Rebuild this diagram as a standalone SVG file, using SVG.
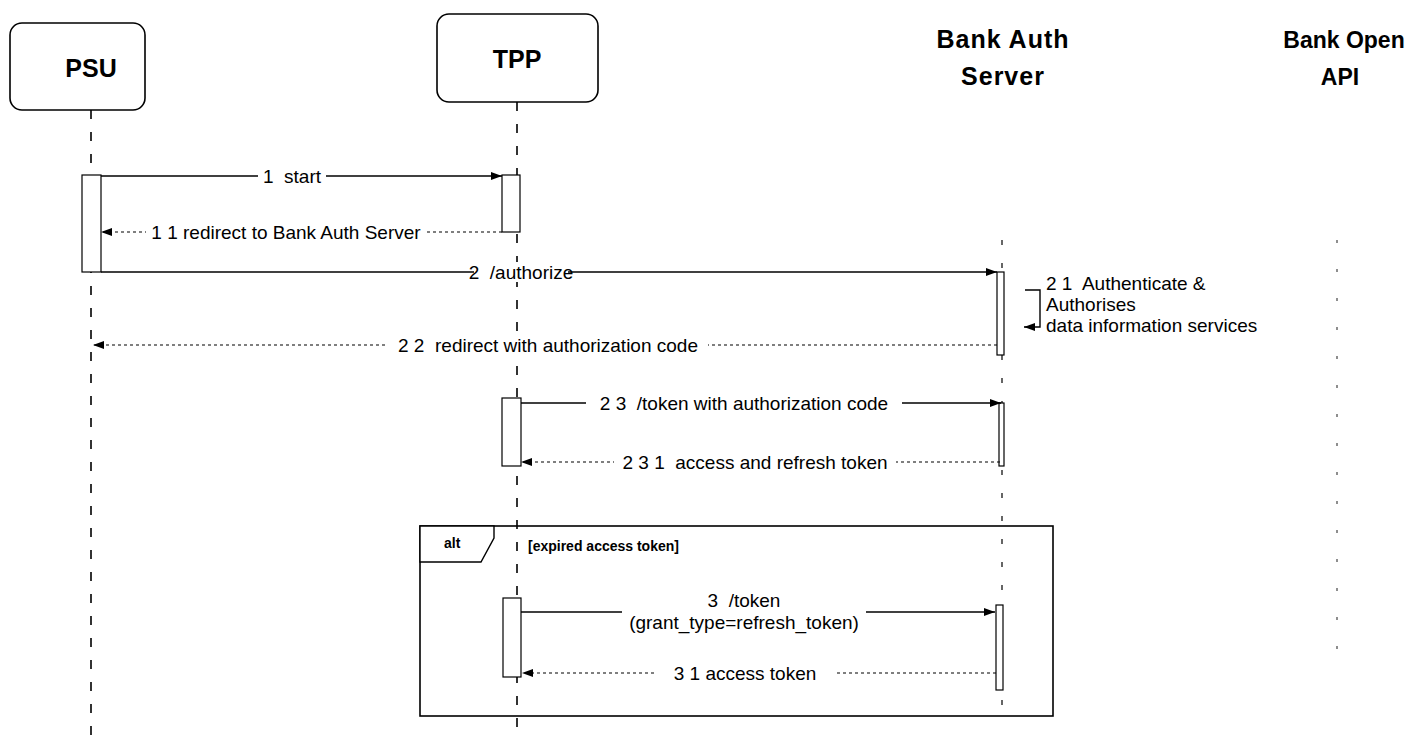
<svg xmlns="http://www.w3.org/2000/svg" width="1408" height="740" viewBox="0 0 1408 740">
<defs>
<style>
text{white-space:pre}
.hdr{font-family:"Liberation Sans",Arial,sans-serif;font-weight:bold;font-size:25px;fill:#000;text-anchor:middle}
.hdr2{font-family:"Liberation Sans",Arial,sans-serif;font-weight:bold;font-size:23px;fill:#000;text-anchor:middle}
.msg{font-family:"Liberation Sans",Arial,sans-serif;font-size:19px;fill:#000;text-anchor:middle}
.lbl{font-family:"Liberation Sans",Arial,sans-serif;font-size:19px;fill:#000}
.small{font-family:"Liberation Sans",Arial,sans-serif;font-weight:bold;font-size:14px;fill:#000}
.life{stroke:#000;stroke-width:1.6;stroke-dasharray:9 13;fill:none}
.life2{stroke:#000;stroke-width:1.2;stroke-dasharray:5 18;fill:none}
.life3{stroke:#444;stroke-width:1.2;stroke-dasharray:3 26;fill:none}
.box{fill:#fff;stroke:#000;stroke-width:1.6}
.act{fill:#fff;stroke:#000;stroke-width:1.2}
.sync{stroke:#000;stroke-width:1.4;fill:none;marker-end:url(#solid)}
.ret{stroke:#000;stroke-width:1.2;stroke-dasharray:3 3;fill:none;marker-end:url(#solid)}
.bg{fill:#fff}
</style>
<marker id="solid" markerWidth="12" markerHeight="10" refX="11" refY="5" orient="auto" markerUnits="userSpaceOnUse">
<path d="M0,1 L11,5 L0,9 Z" fill="#000"/>
</marker>
</defs>
<rect width="1408" height="740" fill="#fff"/>

<g id="lifelines">
<line class="life" x1="91" y1="110" x2="91" y2="740"/>
<line class="life" x1="517" y1="102" x2="517" y2="740"/>
<line class="life2" x1="1002" y1="240" x2="1002" y2="720"/>
<line class="life3" x1="1337" y1="240" x2="1337" y2="670"/>
</g>

<g id="psu">
<rect class="box" x="10" y="23" width="135" height="87" rx="12"/>
<text class="hdr" x="91" y="77">PSU</text>
</g>
<g id="tpp">
<rect class="box" x="437" y="14" width="161" height="88" rx="12"/>
<text class="hdr" x="517" y="68">TPP</text>
</g>
<g id="bank-auth">
<text class="hdr" x="1003" y="48" letter-spacing="1">Bank Auth</text>
<text class="hdr" x="1003" y="85" letter-spacing="1">Server</text>
</g>
<g id="bank-api">
<text class="hdr2" x="1344" y="48">Bank Open</text>
<text class="hdr2" x="1340" y="85">API</text>
</g>

<g id="alt-frame">
<rect x="420" y="526" width="633" height="190" fill="none" stroke="#000" stroke-width="1.6"/>
<polygon points="420,526 494,526 494,538 481,562 420,562" fill="#fff" stroke="#000" stroke-width="1.4"/>
<text class="small" x="444" y="548">alt</text>
<text class="small" x="528" y="551">[expired access token]</text>
</g>

<g id="activations">
<rect class="act" x="82" y="175" width="19" height="97"/>
<rect class="act" x="502" y="175" width="18" height="57"/>
<rect class="act" x="997" y="272" width="7" height="83"/>
<rect class="act" x="502" y="398" width="19" height="68"/>
<rect class="act" x="999" y="403" width="5" height="63"/>
<rect class="act" x="503" y="598" width="18" height="79"/>
<rect class="act" x="996" y="605" width="7" height="85"/>
</g>

<g id="connectors">
<line class="sync" x1="101" y1="176" x2="502" y2="176"/>
<line class="ret" x1="502" y1="232" x2="101" y2="232"/>
<line class="sync" x1="101" y1="272" x2="997" y2="272"/>
<polyline class="sync" points="1025,290 1040,290 1040,327 1024,327"/>
<line class="ret" x1="997" y1="345" x2="93" y2="345"/>
<line class="sync" x1="521" y1="403" x2="1001" y2="403"/>
<line class="ret" x1="1000" y1="462" x2="521" y2="462"/>
<line class="sync" x1="521" y1="612" x2="995" y2="612"/>
<line class="ret" x1="996" y1="673" x2="522" y2="673"/>
</g>

<g id="labels">
<rect class="bg" x="258" y="166" width="68" height="20"/>
<text class="msg" x="292" y="183">1  start</text>
<rect class="bg" x="146" y="222" width="280" height="20"/>
<text class="msg" x="286" y="239">1 1 redirect to Bank Auth Server</text>
<rect class="bg" x="474" y="262" width="94" height="20"/>
<text class="msg" x="521" y="279">2  /authorize</text>
<text class="lbl" x="1046" y="290">2 1  Authenticate &amp;</text>
<text class="lbl" x="1046" y="311">Authorises</text>
<text class="lbl" x="1046" y="332">data information services</text>
<rect class="bg" x="388" y="335" width="320" height="20"/>
<text class="msg" x="548" y="352">2 2  redirect with authorization code</text>
<rect class="bg" x="586" y="393" width="316" height="20"/>
<text class="msg" x="744" y="410">2 3  /token with authorization code</text>
<rect class="bg" x="614" y="452" width="282" height="20"/>
<text class="msg" x="755" y="469">2 3 1  access and refresh token</text>
<rect class="bg" x="622" y="588" width="244" height="44"/>
<text class="msg" x="744" y="607">3  /token</text>
<text class="msg" x="744" y="629">(grant_type=refresh_token)</text>
<rect class="bg" x="656" y="663" width="178" height="20"/>
<text class="msg" x="745" y="680">3 1 access token</text>
</g>
</svg>
